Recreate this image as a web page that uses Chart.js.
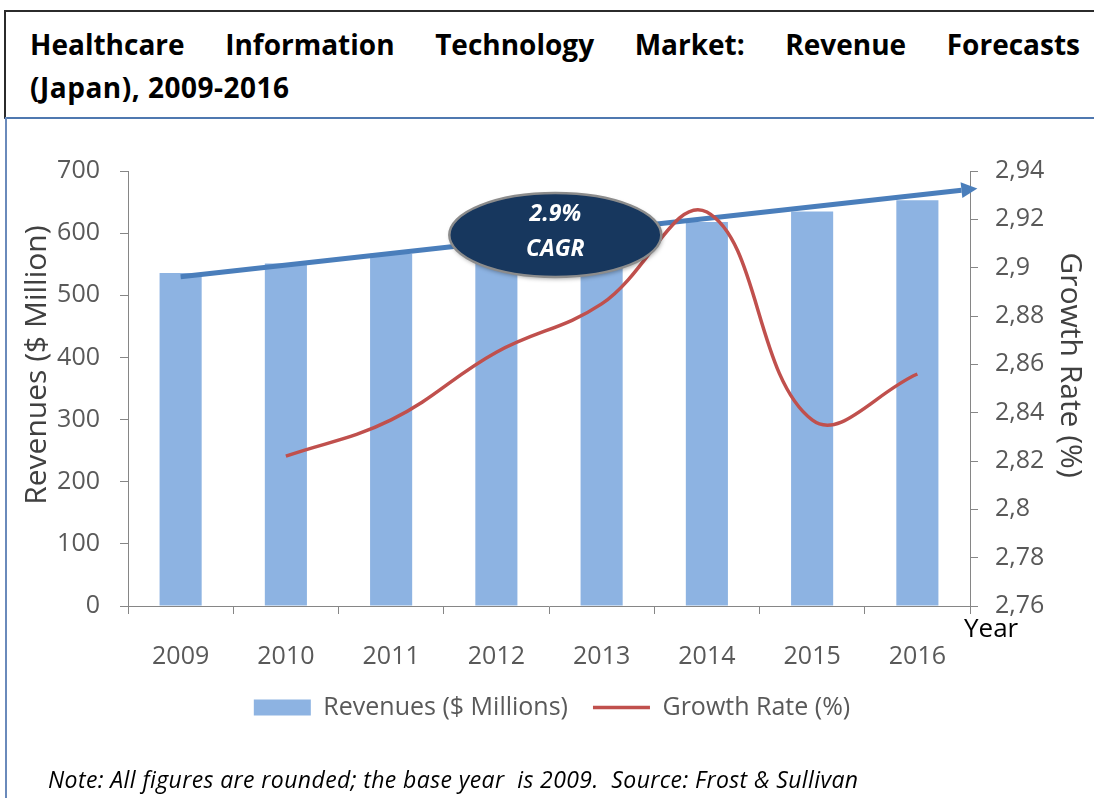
<!DOCTYPE html>
<html>
<head>
<meta charset="utf-8">
<title>Healthcare IT Market - Japan</title>
<script src="https://cdn.jsdelivr.net/npm/chart.js@4.4.0/dist/chart.umd.min.js"></script>
<style>
  html, body { margin: 0; padding: 0; background: #fff; }
  body { width: 1094px; height: 798px; position: relative; overflow: hidden; font-family: 'Open Sans', sans-serif; }
  #title-box { position: absolute; left: 4px; top: 10px; width: 1090px; height: 105px;
    border-top: 2px solid #2b2b2b; border-left: 2px solid #2b2b2b; border-bottom: 2px solid #4f78b0; }
  #side-line { position: absolute; left: 5px; top: 117px; height: 681px; border-left: 2px solid #6a8abb; }
  .title { position: absolute; left: 30px; width: 1050px; font-weight: 700; font-size: 28px; line-height: 40px; color: #000; }
  #t1 { top: 24px; text-align: justify; text-align-last: justify; }
  #t2 { top: 67px; letter-spacing: 0.5px; }
  #chart-wrap { position: absolute; left: 10px; top: 118px; width: 1084px; height: 680px; }
  #year { position: absolute; left: 964px; top: 609px; font-size: 26px; color: #000; }
  #note { position: absolute; left: 48px; top: 763px; font-size: 23px; letter-spacing: 0.4px; font-style: italic; color: #000; white-space: pre; }
</style>
</head>
<body>
<div id="title-box"></div>
<div id="side-line"></div>
<div class="title" id="t1">Healthcare Information Technology Market: Revenue Forecasts</div>
<div class="title" id="t2">(Japan), 2009-2016</div>
<div id="chart-wrap"><canvas id="chart" width="1084" height="680"></canvas></div>
<div id="year">Year</div>
<div id="note">Note: All figures are rounded; the base year  is 2009.  Source: Frost &amp; Sullivan</div>

<script>
const years = ['2009', '2010', '2011', '2012', '2013', '2014', '2015', '2016'];
const revenues = [536, 551, 567, 583, 600, 618, 635, 653];
const growthRates = [null, 2.822, 2.837, 2.865, 2.885, 2.923, 2.837, 2.856];

// CAGR annotation: [category index, revenue value]
const arrowFrom = [0, 530];
const arrowTo = [7.57, 672];
const cagrAt = [3.56, 597];
const cagrText = ['2.9%', 'CAGR'];

Chart.defaults.font.family = "'Open Sans', sans-serif";
Chart.defaults.color = '#595959';

const axisGrey = '#868686';

const cagrPlugin = {
  id: 'cagr',
  afterDatasetDraw(chart, args) {
    if (args.index !== 0) return;
    const { ctx, scales: { x, y } } = chart;
    const x0 = x.getPixelForValue(arrowFrom[0]);
    const y0 = y.getPixelForValue(arrowFrom[1]);
    const x1 = x.getPixelForValue(arrowTo[0]);
    const y1 = y.getPixelForValue(arrowTo[1]);
    const ang = Math.atan2(y1 - y0, x1 - x0);
    const head = 16;
    ctx.save();
    ctx.strokeStyle = '#4a7ebb';
    ctx.fillStyle = '#4a7ebb';
    ctx.lineWidth = 5;
    ctx.beginPath();
    ctx.moveTo(x0, y0);
    ctx.lineTo(x1 - head * Math.cos(ang), y1 - head * Math.sin(ang));
    ctx.stroke();
    ctx.translate(x1, y1);
    ctx.rotate(ang);
    ctx.beginPath();
    ctx.moveTo(0, 0);
    ctx.lineTo(-head, -8);
    ctx.lineTo(-head, 8);
    ctx.closePath();
    ctx.fill();
    ctx.restore();
  },
  afterDatasetsDraw(chart) {
    const { ctx, scales: { x, y } } = chart;
    const cx = x.getPixelForValue(cagrAt[0]);
    const cy = y.getPixelForValue(cagrAt[1]);
    ctx.save();
    ctx.shadowColor = 'rgba(0,0,0,0.35)';
    ctx.shadowBlur = 4;
    ctx.shadowOffsetX = 1;
    ctx.shadowOffsetY = 2;
    ctx.beginPath();
    ctx.ellipse(cx, cy, 106, 42, 0, 0, Math.PI * 2);
    ctx.fillStyle = '#17375e';
    ctx.fill();
    ctx.shadowColor = 'transparent';
    ctx.lineWidth = 2.5;
    ctx.strokeStyle = '#8c8c8c';
    ctx.stroke();
    ctx.fillStyle = '#fff';
    ctx.textAlign = 'center';
    ctx.textBaseline = 'middle';
    ctx.font = "italic 700 23px 'Open Sans', sans-serif";
    ctx.fillText(cagrText[0], cx, cy - 21);
    ctx.fillText(cagrText[1], cx, cy + 14);
    ctx.restore();
  }
};

new Chart(document.getElementById('chart'), {
  type: 'bar',
  data: {
    labels: years,
    datasets: [
      {
        label: 'Revenues ($ Millions)',
        data: revenues,
        backgroundColor: '#8db3e2',
        barPercentage: 0.4,
        categoryPercentage: 1,
        yAxisID: 'y',
        pointStyle: 'rect',
        order: 2,
      },
      {
        type: 'line',
        label: 'Growth Rate (%)',
        data: growthRates,
        borderColor: '#c0504d',
        backgroundColor: '#c0504d',
        borderWidth: 3.5,
        pointRadius: 0,
        pointBorderWidth: 3.5,
        pointStyle: 'line',
        tension: 0.4,
        yAxisID: 'y1',
        order: 1,
      },
    ],
  },
  options: {
    responsive: false,
    animation: false,
    layout: { padding: { top: 53, bottom: 68, left: 0, right: 0 } },
    plugins: {
      legend: {
        position: 'bottom',
        labels: {
          usePointStyle: true,
          pointStyleWidth: 57,
          boxHeight: 16,
          padding: 25,
          color: '#595959',
          font: { size: 25 },
          sort: (a, b) => a.datasetIndex - b.datasetIndex,
        },
      },
      tooltip: { enabled: false },
    },
    scales: {
      x: {
        grid: { display: true, drawOnChartArea: false, tickLength: 8, color: axisGrey },
        border: { color: axisGrey },
        ticks: { font: { size: 25 }, padding: 28, color: '#595959', maxRotation: 0 },
        afterFit: (s) => { s.height = 64; },
      },
      y: {
        position: 'left',
        min: 0,
        max: 700,
        ticks: { stepSize: 100, font: { size: 25 }, padding: 20, color: '#595959' },
        grid: { drawOnChartArea: false, tickLength: 8, color: axisGrey },
        border: { color: axisGrey },
        title: { display: true, text: '      Revenues ($ Million)', color: '#404040', font: { size: 30 }, padding: { top: 9, bottom: 0 } },
        afterFit: (s) => { s.width = 118; },
      },
      y1: {
        position: 'right',
        min: 2.76,
        max: 2.94,
        ticks: {
          stepSize: 0.02,
          font: { size: 25 },
          padding: 17,
          color: '#595959',
          callback: (v) => (+v.toFixed(2)).toString().replace('.', ','),
        },
        grid: { drawOnChartArea: false, tickLength: 8, color: axisGrey },
        border: { color: axisGrey },
        title: { display: true, text: 'Growth Rate (%)      ', color: '#404040', font: { size: 30 }, padding: { top: 6, bottom: 0 } },
        afterFit: (s) => { s.width = 124; },
      },
    },
  },
  plugins: [cagrPlugin],
});
</script>
</body>
</html>
